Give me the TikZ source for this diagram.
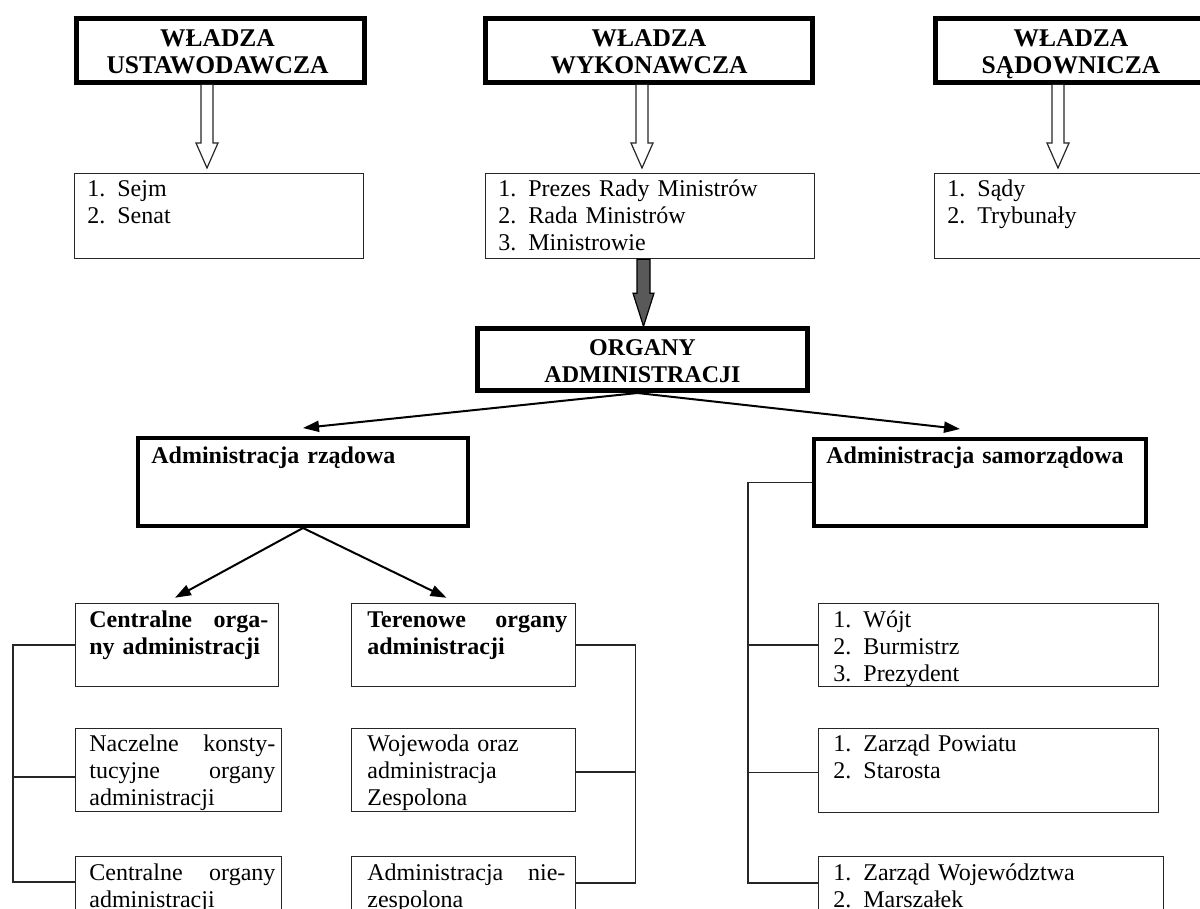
\documentclass[tikz,border=0pt]{standalone}
\usepackage{fontspec}
\setmainfont{Liberation Serif}
\usetikzlibrary{arrows.meta,calc,fit}
\newcommand{\jline}[2]{\leavevmode\hbox to #1{#2}}
\begin{document}
\begin{tikzpicture}[x=0.5pt,y=-0.5pt,
  font=\fontsize{12}{13.5}\selectfont,
  thickbox/.style={draw=black, line width=2.5pt, inner sep=0pt},
  headtxt/.style={align=center, inner sep=0pt, font=\fontsize{12.75}{13.5}\selectfont\bfseries},
  adminbox/.style={draw=black, line width=2pt, inner sep=0pt},
  thinbox/.style={draw=black!85, line width=0.75pt, inner sep=0pt},
  txt/.style={anchor=base west, inner sep=0pt, align=left, text width=#1},
  txt/.default=170pt,
  boldtxt/.style={font=\fontsize{12}{13.5}\selectfont\bfseries},
  hollowarr/.style={draw=black!85, fill=white, line width=0.6pt, line join=miter},
  darkarr/.style={draw=black, fill=black!65, line width=0.6pt, line join=miter},
  conn/.style={draw=black, line width=1pt, -{Triangle[length=8pt,width=5.5pt]}},
  bracket/.style={draw=black!85, line width=0.75pt},
]
\useasboundingbox (0,0) rectangle (1200,909);
\clip (0,0) rectangle (1200,909);

% ---------- top row ----------
\node[thickbox, fit={(76.5,18.5) (364.5,82.5)}] (A) {};
\node[thickbox, fit={(485.5,18.5) (812.5,82.5)}] (B) {};
\node[thickbox, fit={(935.5,18.5) (1206.5,82.5)}] (C) {};
\node[headtxt] (hA) at ($(A.center)+(-3,1)$) {WŁADZA\\USTAWODAWCZA};
\node[headtxt] (hB) at ($(B.center)+(0,1)$) {WŁADZA\\WYKONAWCZA};
\node[headtxt] (hC) at ($(C.center)+(0,4)$) {WŁADZA\\SĄDOWNICZA};

% ---------- second row ----------
\node[thinbox, fit={(74.5,173.5) (363.5,258.5)}] (SE) {};
\node[thinbox, fit={(485.5,173.5) (814.5,258.5)}] (PR) {};
\node[thinbox, fit={(934.5,173.5) (1215,258.5)}] (SA) {};
\node[txt=140pt] (tSE) at (87,197) {1. Sejm\\2. Senat};
\node[txt=155pt] (tPR) at (498,197) {1. Prezes Rady Ministrów\\2. Rada Ministrów\\3. Ministrowie};
\node[txt=120pt] (tSA) at (947,197) {1. Sądy\\2. Trybunały};

% ---------- organy ----------
\node[thickbox, fit={(477.5,328.5) (807.5,390.5)}] (ORG) {};
\node[headtxt, font=\fontsize{12}{13.5}\selectfont\bfseries] (hORG) at ($(ORG.center)+(0,2)$) {ORGANY\\ADMINISTRACJI};

% ---------- admin boxes ----------
\node[adminbox, fit={(138,438) (468,526)}] (RZ) {};
\node[adminbox, fit={(814,439) (1146,526)}] (SAM) {};
\node[txt=160pt, boldtxt] (tRZ) at (151,463) {Administracja rządowa};
\node[txt=160pt, boldtxt] (tSAM) at (826,463) {Administracja samorządowa};

% ---------- rządowa column boxes ----------
\node[thinbox, fit={(75.5,603.5) (278.5,686.5)}] (C1) {};
\node[thinbox, fit={(351.5,603.5) (575.5,686.5)}] (T1) {};
\node[thinbox, fit={(75.5,728.5) (281.5,811.5)}] (N1) {};
\node[thinbox, fit={(351.5,728.5) (575.5,811.5)}] (W1) {};
\node[thinbox, fit={(75.5,856.5) (281.5,940)}] (C2) {};
\node[thinbox, fit={(351.5,856.5) (575.5,940)}] (T2) {};

\node[txt=90pt, boldtxt] (tC1) at (89,627) {\jline{89.5pt}{Centralne\hfill orga-}\\ny administracji};
\node[txt=101pt, boldtxt] (tT1) at (367,627) {\jline{100pt}{Terenowe\hfill organy}\\administracji};
\node[txt=94pt] (tN1) at (89,751) {\jline{93pt}{Naczelne\hfill konsty-}\\\jline{93pt}{tucyjne\hfill organy}\\administracji};
\node[txt=100pt] (tW1) at (367,751) {Wojewoda oraz\\administracja\\Zespolona};
\node[txt=94pt] (tC2) at (89,880) {\jline{93pt}{Centralne\hfill organy}\\administracji};
\node[txt=100pt] (tT2) at (367,880) {\jline{99pt}{Administracja\hfill nie-}\\zespolona};

% ---------- samorządowa column boxes ----------
\node[thinbox, fit={(818.5,603.5) (1158.5,686.5)}] (WJ) {};
\node[thinbox, fit={(818.5,728.5) (1158.5,812.5)}] (PW) {};
\node[thinbox, fit={(818.5,856.5) (1163.5,940)}] (WW) {};
\node[txt=160pt] (tWJ) at (833,627) {1. Wójt\\2. Burmistrz\\3. Prezydent};
\node[txt=160pt] (tPW) at (833,751) {1. Zarząd Powiatu\\2. Starosta};
\node[txt=160pt] (tWW) at (833,880) {1. Zarząd Województwa\\2. Marszałek};

% ---------- hollow arrows ----------
\draw[hollowarr] ($(A.south)+(-13.5,0)$) ++(-6,0) -- ++(0,58) -- ++(-5,0) -- ++(11,25) -- ++(11,-25) -- ++(-5,0) -- ++(0,-58);
\draw[hollowarr] ($(B.south)+(-7,0)$) ++(-6,0) -- ++(0,58) -- ++(-5,0) -- ++(11,25) -- ++(11,-25) -- ++(-5,0) -- ++(0,-58);
\draw[hollowarr] ($(C.south)+(-13,0)$) ++(-6,0) -- ++(0,58) -- ++(-5,0) -- ++(11,25) -- ++(11,-25) -- ++(-5,0) -- ++(0,-58);

% ---------- dark arrow ----------
\draw[darkarr] ($(PR.south)+(-6.5,0)$) ++(-6.5,0) -- ++(0,34) -- ++(-4,0) -- ++(10.5,33) -- ++(10.5,-33) -- ++(-4,0) -- ++(0,-34) -- cycle;

% ---------- connectors ----------
\coordinate (o) at ($(ORG.south)+(-5,0)$);
\draw[conn] (o) -- ($(RZ.north)+(0,-8)$);
\draw[conn] (o) -- ($(SAM.north)+(-20,-8)$);
\draw[conn] (RZ.south) -- ($(C1.north)+(-2,-5)$);
\draw[conn] (RZ.south) -- ($(T1.north)+(-17,-5)$);

% ---------- brackets ----------
\draw[bracket] (C1.west) -| ($(C2.north west)+(-62,26)$) -- ($(C2.north west)+(0,26)$);
\draw[bracket] ($(N1.west)+(0,7)$) -- ++(-62,0);
\draw[bracket] (T1.east) -| ($(T2.north east)+(59,27)$) -- ($(T2.north east)+(0,27)$);
\draw[bracket] ($(W1.east)+(0,2)$) -- ++(59,0);
\draw[bracket] (SAM.west) -| ($(WW.north west)+(-70,27)$) -- ($(WW.north west)+(0,27)$);
\draw[bracket] (WJ.west) -- ++(-70,0);
\draw[bracket] ($(PW.west)+(0,2)$) -- ++(-70,0);
\end{tikzpicture}
\end{document}
